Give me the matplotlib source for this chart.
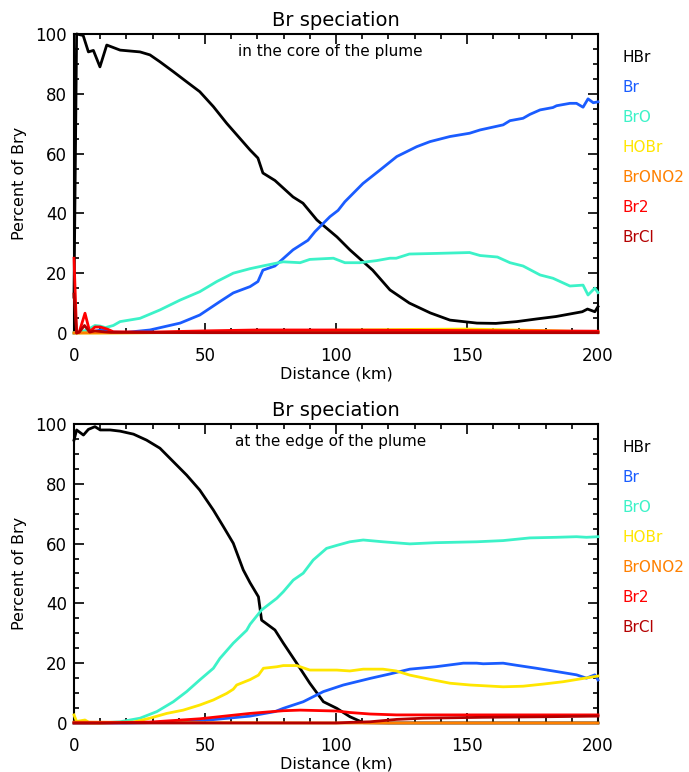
import matplotlib
matplotlib.use("Agg")
import matplotlib.pyplot as plt
from matplotlib.ticker import MultipleLocator

species = ["HBr", "Br", "BrO", "HOBr", "BrONO2", "Br2", "BrCl"]
colors = ["#000000", "#1a5cff", "#3cf2c8", "#ffe600", "#ff8000", "#ff0000", "#b40000"]

# ---- core of the plume ----
core_hbr_x = [0, 1, 3.5, 5.5, 7.4, 9.9, 12.5, 17.6, 25.2, 29, 32.8, 37.9, 43, 48, 53.2, 58.3, 63.4,
              67.2, 70.2, 72.1, 76.7, 83.6, 87.4, 92.7, 100.4, 105.3, 114, 120.6, 128, 136, 143.5,
              153.8, 161, 169, 176.7, 184, 189, 194, 196, 198.8, 200]
core_hbr_y = [12, 100, 99.5, 94, 94.5, 89, 96.3, 94.6, 94, 93, 90.7, 87.4, 84, 80.7, 75.7, 70.1, 65,
              61.2, 58.5, 53.5, 51, 45.5, 43.4, 37.8, 32.1, 27.8, 21, 14.4, 10, 6.7, 4.3,
              3.3, 3.2, 3.8, 4.7, 5.5, 6.3, 7.1, 8, 7.1, 8.8]

core_br_x = [0, 5, 8, 11, 14, 20, 29, 40.5, 48, 55.7, 60.8, 67.2, 70.2, 72.1, 76.7, 83.6, 89.3, 92,
             97.7, 100.8, 103.4, 110.3, 116.8, 123.2, 130.8, 135.9, 143.5, 151, 155, 163.8, 166.4,
             171.4, 174, 177.9, 182.8, 184.2, 189.3, 191.8, 194.3, 196.2, 198.2, 200]
core_br_y = [0, 0.2, 0.5, 1.2, 0.3, 0.2, 1, 3.3, 6, 10.5, 13.4, 15.5, 17.2, 21, 22.4, 27.8, 31, 33.9,
             38.9, 41, 43.9, 50, 54.5, 59, 62.3, 64, 65.7, 66.8, 67.9, 69.6, 71,
             71.8, 73.1, 74.6, 75.4, 76, 76.8, 76.8, 75.5, 78.3, 77, 77.3]

core_bro_x = [0, 3, 5, 8, 10, 12, 15, 17.6, 25.2, 32.8, 40.5, 48, 54.5, 60.8, 67.2, 72, 79.8, 86.3,
              90, 99, 103.4, 109, 115.5, 120.6, 123, 128, 138, 151, 155, 161.6, 166.4, 171.4,
              177.9, 182.8, 189.3, 194.3, 196.2, 198.8, 200]
core_bro_y = [0, 0.5, 1, 2.5, 2.3, 1.8, 2.5, 3.8, 4.9, 7.7, 11, 13.8, 17.2, 20, 21.5, 22.4, 23.8, 23.5,
              24.6, 25, 23.5, 23.5, 24.2, 25, 25, 26.4, 26.6, 26.9, 25.9, 25.4, 23.5, 22.4,
              19.4, 18.3, 15.7, 16, 12.7, 15, 13.5]

core_hobr_x = [0, 10, 30, 60, 100, 130, 150, 180, 200]
core_hobr_y = [0, 0, 0.1, 0.5, 0.9, 1.2, 1.3, 0.8, 0.3]

core_brono2_x = [0, 50, 100, 150, 200]
core_brono2_y = [0, 0.2, 0.3, 0.3, 0.2]

core_br2_x = [0, 1, 2, 4.2, 6, 8, 10, 12.7, 15, 30, 50, 70, 100, 150, 200]
core_br2_y = [25, 0, 0.3, 6.6, 0.4, 2, 2, 1.3, 0.4, 0.3, 0.7, 1, 1, 0.8, 0.6]

core_brcl_x = [0, 1, 2, 4, 6, 8, 10, 14, 50, 100, 150, 200]
core_brcl_y = [13, 0, 0.3, 2.5, 0.3, 0.7, 0.5, 0.2, 0.1, 0.1, 0.1, 0.1]

# ---- edge of the plume ----
edge_hbr_x = [0, 1, 3.6, 5.5, 8, 10, 13.8, 17.6, 22.7, 27.7, 32.8, 37.9, 43, 48, 53.2, 57, 60.8,
              64.6, 67.2, 70.4, 71.6, 76.7, 79.9, 85, 90, 95.2, 100.3, 105.3, 110.4, 120, 200]
edge_hbr_y = [94.6, 98, 96.3, 98.2, 99.1, 98, 98, 97.6, 96.6, 94.6, 91.9, 87.4, 82.9, 77.9, 71.2,
              65.7, 60.1, 51.2, 46.9, 42.2, 34.4, 31.1, 26.7, 20, 13.3, 7.1, 4.9, 2.1, 0.1, 0, 0]

edge_br_x = [0, 20, 35, 48, 67.2, 76.7, 79.9, 87.5, 95.2, 102.8, 107.9, 113, 120.6, 128.2, 138,
             148.6, 153.7, 156.2, 163.8, 168.9, 176.5, 184.2, 191.8, 195.6, 198.8, 200]
edge_br_y = [0, 0, 0.2, 0.7, 2.3, 3.8, 4.9, 7.1, 10.5, 12.7, 13.8, 14.9, 16.4, 18, 18.8,
             20, 20, 19.8, 20, 19.3, 18.3, 17.2, 16.1, 15, 16.1, 14.4]

edge_bro_x = [0, 10, 17.6, 25.2, 31.6, 37.9, 43, 48, 53.2, 55.7, 60.8, 65.9, 67.2, 71.6, 77.4,
              79.9, 83.7, 87.5, 91.3, 96.4, 100.3, 105.3, 110.4, 117.9, 128.2, 138, 153.7,
              163.8, 174, 184.2, 191.8, 195.6, 200]
edge_bro_y = [0, 0, 0.4, 1.6, 3.8, 7.1, 10.5, 14.4, 18.3, 21.6, 26.7, 31, 33, 37.8, 41.7,
              43.9, 47.8, 50.1, 54.5, 58.4, 59.4, 60.6, 61.2, 60.6, 59.9, 60.3, 60.6,
              61, 61.9, 62.1, 62.3, 62.1, 62.3]

edge_hobr_x = [0, 1, 4.2, 6, 10, 22.7, 29, 35.4, 41.7, 48, 53.2, 58.3, 60.8, 62.1, 67.2, 70.4,
               72.3, 77.4, 79.9, 85, 90, 100.3, 105.3, 110.4, 117.9, 123, 128.2, 135.9, 143.5,
               151.2, 163.8, 171.4, 179, 186.7, 194.4, 200]
edge_hobr_y = [2.7, 0.5, 1, 0, 0, 0.3, 1.6, 3.2, 4.3, 6, 7.7, 9.9, 11.3, 12.7, 14.5, 16,
               18.3, 18.8, 19.2, 19.2, 17.7, 17.7, 17.4, 18, 18, 17.4, 16, 14.6, 13.3,
               12.7, 12.1, 12.3, 13, 13.8, 14.9, 15.7]

edge_brono2_x = [0, 50, 100, 150, 200]
edge_brono2_y = [0.3, 0.1, 0, 0, 0]

edge_br2_x = [0, 10, 29, 48, 67.2, 79.9, 86.3, 100.3, 105.3, 113, 123, 160, 200]
edge_br2_y = [0, 0, 0.3, 1.4, 3.2, 4.1, 4.3, 4, 3.5, 3, 2.7, 2.7, 2.7]

edge_brcl_x = [0, 50, 100, 105.3, 113, 123.2, 133.4, 156, 181.7, 200]
edge_brcl_y = [0, 0, 0, 0.2, 0.4, 1.2, 1.6, 1.9, 2.1, 2.3]

core = [(core_hbr_x, core_hbr_y), (core_br_x, core_br_y), (core_bro_x, core_bro_y),
        (core_hobr_x, core_hobr_y), (core_brono2_x, core_brono2_y), (core_br2_x, core_br2_y),
        (core_brcl_x, core_brcl_y)]
edge = [(edge_hbr_x, edge_hbr_y), (edge_br_x, edge_br_y), (edge_bro_x, edge_bro_y),
        (edge_hobr_x, edge_hobr_y), (edge_brono2_x, edge_brono2_y), (edge_br2_x, edge_br2_y),
        (edge_brcl_x, edge_brcl_y)]

fig = plt.figure(figsize=(6.89, 7.72), dpi=100)
ax_top = fig.add_axes([0.1074, 0.5687, 0.7605, 0.3873])
ax_bot = fig.add_axes([0.1074, 0.0635, 0.7605, 0.3873])


def draw_panel(ax, series, note):
    # data drawn over the frame, like the original IDL plot
    for (x, y), c in zip(series, colors):
        ax.plot(x, y, color=c, lw=2.0, clip_on=False, zorder=3)
    ax.set_xlim(0, 200)
    ax.set_ylim(0, 100)
    ax.xaxis.set_major_locator(MultipleLocator(50))
    ax.xaxis.set_minor_locator(MultipleLocator(10))
    ax.yaxis.set_major_locator(MultipleLocator(20))
    ax.yaxis.set_minor_locator(MultipleLocator(5))
    ax.tick_params(which="both", direction="in", top=True, right=True, width=1.2, labelsize=12)
    ax.tick_params(axis="x", pad=10)
    ax.tick_params(axis="y", pad=5)
    ax.tick_params(which="major", length=7)
    ax.tick_params(which="minor", length=3.5)
    for s in ax.spines.values():
        s.set_linewidth(1.5)
    ax.set_title("Br speciation", fontsize=14, pad=6)
    ax.set_xlabel("Distance (km)", fontsize=11.5, labelpad=1)
    ax.set_ylabel("Percent of Bry", fontsize=11.5, labelpad=6)
    ax.text(0.49, 0.94, note, transform=ax.transAxes, ha="center", va="center", fontsize=11)
    for i, (name, c) in enumerate(zip(species, colors)):
        ax.text(1.046, 0.92 - i * 0.1, name, transform=ax.transAxes, color=c,
                fontsize=11, ha="left", va="center")


draw_panel(ax_top, core, "in the core of the plume")
draw_panel(ax_bot, edge, "at the edge of the plume")

fig.savefig("out.png", dpi=100)
